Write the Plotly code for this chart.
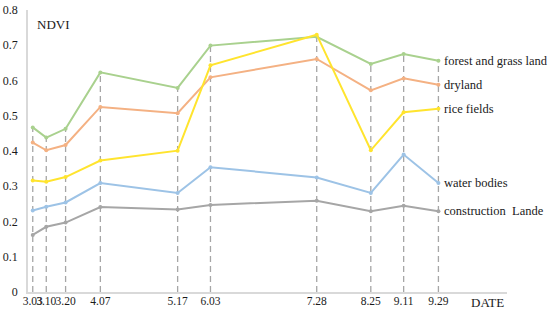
"""NDVI time series by land-cover class, drawn with Plotly."""

import plotly.graph_objects as go

DATES = [
    "2019-03-03", "2019-03-10", "2019-03-20", "2019-04-07", "2019-05-17",
    "2019-06-03", "2019-07-28", "2019-08-25", "2019-09-11", "2019-09-29",
]
DATE_LABELS = ["3.03", "3.10", "3.20", "4.07", "5.17", "6.03", "7.28", "8.25", "9.11", "9.29"]

FOREST_GRASS = [0.467, 0.438, 0.463, 0.623, 0.579, 0.699, 0.724, 0.647, 0.675, 0.656]
DRYLAND = [0.424, 0.402, 0.417, 0.525, 0.507, 0.609, 0.661, 0.572, 0.606, 0.588]
RICE_FIELDS = [0.316, 0.313, 0.326, 0.373, 0.401, 0.643, 0.730, 0.402, 0.510, 0.520]
WATER_BODIES = [0.231, 0.242, 0.254, 0.309, 0.281, 0.354, 0.325, 0.281, 0.390, 0.309]
CONSTRUCTION = [0.162, 0.185, 0.197, 0.241, 0.234, 0.247, 0.259, 0.229, 0.245, 0.229]

Y_TICKS = [0, 0.1, 0.2, 0.3, 0.4, 0.5, 0.6, 0.7, 0.8]
Y_TICK_LABELS = ["0", "0.1", "0.2", "0.3", "0.4", "0.5", "0.6", "0.7", "0.8"]

SERIES = [
    ("forest and grass land", FOREST_GRASS, "#a9d18e"),
    ("dryland", DRYLAND, "#f4b183"),
    ("rice fields", RICE_FIELDS, "#ffe42e"),
    ("water bodies", WATER_BODIES, "#9dc3e6"),
    ("construction  Lande", CONSTRUCTION, "#a6a6a6"),
]

SERIF = "Liberation Serif"
TEXT_COLOR = "#1a1a1a"
AXIS_COLOR = "#d9d9d9"

fig = go.Figure()

# dashed drop lines from the highest value at each date down to zero
drop_x, drop_y = [], []
for i, d in enumerate(DATES):
    top = max(values[i] for _, values, _ in SERIES)
    drop_x += [d, d, None]
    drop_y += [0, top, None]
fig.add_trace(
    go.Scatter(
        x=drop_x,
        y=drop_y,
        mode="lines",
        line={"color": "#a6a6a6", "width": 1.3, "dash": "6px,4px"},
        hoverinfo="skip",
        showlegend=False,
    )
)

for name, values, color in SERIES:
    fig.add_trace(
        go.Scatter(
            x=DATES,
            y=values,
            name=name,
            mode="lines+markers",
            line={"color": color, "width": 2},
            marker={"color": color, "size": 4},
            showlegend=False,
        )
    )
    fig.add_annotation(
        x=DATES[-1],
        y=values[-1],
        text=name,
        showarrow=False,
        xanchor="left",
        xshift=4,
        font={"family": SERIF, "size": 12.5, "color": TEXT_COLOR},
    )

fig.add_annotation(
    x=0.015, y=0.95, xref="paper", yref="paper", text="NDVI", showarrow=False,
    xanchor="left", yanchor="middle", font={"family": SERIF, "size": 13, "color": TEXT_COLOR},
)
fig.add_annotation(
    x=0.998, y=-0.037, xref="paper", yref="paper", text="DATE", showarrow=False,
    xanchor="right", yanchor="middle", font={"family": SERIF, "size": 13, "color": TEXT_COLOR},
)

fig.update_layout(
    width=550,
    height=312,
    paper_bgcolor="white",
    plot_bgcolor="white",
    margin={"l": 28, "r": 43, "t": 10, "b": 20, "autoexpand": False},
    font={"family": SERIF, "size": 12, "color": TEXT_COLOR},
)
fig.update_xaxes(
    type="date",
    range=["2019-02-28 13:00", "2019-11-03 12:00"],
    tickmode="array",
    tickvals=DATES,
    ticktext=DATE_LABELS,
    tickangle=0,
    tickfont={"family": SERIF, "size": 11.5, "color": TEXT_COLOR},
    showgrid=False,
    zeroline=False,
    showline=True,
    linecolor=AXIS_COLOR,
    linewidth=1.5,
    ticks="",
    ticklen=0,
    ticklabelstandoff=-3,
    automargin=False,
)
fig.update_yaxes(
    range=[0, 0.8],
    tickmode="array",
    tickvals=Y_TICKS,
    ticktext=Y_TICK_LABELS,
    tickfont={"family": SERIF, "size": 12, "color": TEXT_COLOR},
    showgrid=False,
    zeroline=False,
    showline=True,
    linecolor=AXIS_COLOR,
    linewidth=1.5,
    ticks="",
    ticklabelstandoff=6,
    automargin=False,
)

# the browser's default body margin would push the 550x312 figure off the window
fig.write_html(
    "out.html",
    config={"displayModeBar": False},
    post_script="document.body.style.margin = '0';",
)
